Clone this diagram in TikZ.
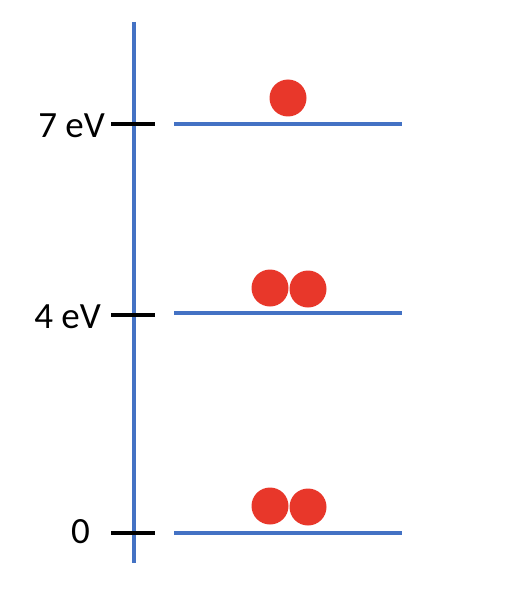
\documentclass[tikz,border=0pt]{standalone}
\usepackage{fontspec}
\setmainfont{Carlito}
\definecolor{lvlblue}{HTML}{4472C4}
\definecolor{elred}{HTML}{E8372A}
\begin{document}
\begin{tikzpicture}[x=1pt,y=-1pt,
  lvl/.style={draw=lvlblue,line width=3.8pt},
  tickmark/.style={draw=black,line width=4.3pt},
  electron/.style={circle,fill=elred,minimum size=37pt,inner sep=0pt},
  lab/.style={font=\fontsize{37}{40}\selectfont,anchor=east,inner sep=0pt}]
\useasboundingbox (0,0) rectangle (506,591);
% axis
\coordinate (axtop) at (134,22);
\coordinate (axbot) at (134,563);
\draw[lvl] (axtop) -- (axbot);
% ticks
\coordinate (t7a) at (111,124); \coordinate (t7b) at (155,124);
\coordinate (t4a) at (111,315); \coordinate (t4b) at (155,315);
\coordinate (t0a) at (111,533); \coordinate (t0b) at (155,533);
\draw[tickmark] (t7a) -- (t7b);
\draw[tickmark] (t4a) -- (t4b);
\draw[tickmark] (t0a) -- (t0b);
% labels
\node[lab] (l7) at (105,126) {7 eV};
\node[lab] (l4) at (101,317) {4 eV};
\node[lab] (l0) at (90,532) {0};
% levels
\coordinate (v7a) at (174,124); \coordinate (v7b) at (402,124);
\coordinate (v4a) at (174,313); \coordinate (v4b) at (402,313);
\coordinate (v0a) at (174,533); \coordinate (v0b) at (402,533);
\draw[lvl] (v7a) -- (v7b);
\draw[lvl] (v4a) -- (v4b);
\draw[lvl] (v0a) -- (v0b);
% electrons
\node[electron] (e7) at (288,98) {};
\node[electron] (e4a) at (270,288) {};
\node[electron] (e4b) at (308,289) {};
\node[electron] (e0a) at (270,506) {};
\node[electron] (e0b) at (308,507) {};
\end{tikzpicture}
\end{document}
